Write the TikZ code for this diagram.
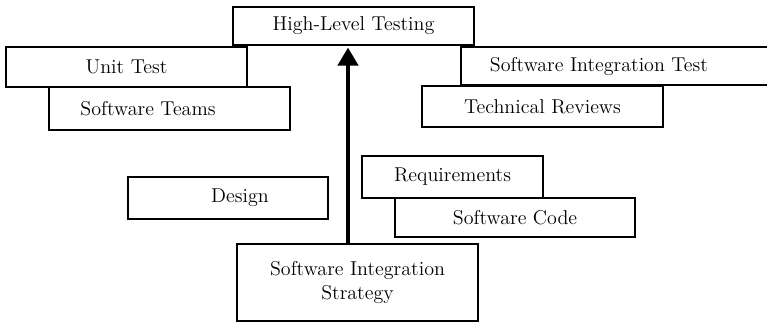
\documentclass[tikz,border=0pt]{standalone}
\usepackage{tikz}
\usetikzlibrary{arrows.meta}
\tikzset{>={Triangle[length=0.36cm,width=0.4cm]}}
\tikzset{okvir/.style={draw, line width=0.9pt, inner sep=0pt, align=center,
	font=\fontsize{11.4}{14.2}\selectfont}}

\begin{document}
\begin{tikzpicture}[x=0.02cm, y=-0.02cm]

	\useasboundingbox (0,0) rectangle (767,322);
	\clip (0,0) rectangle (767,322);

	% top row
	\node[okvir, minimum width=4.82cm, minimum height=0.76cm] (high) at (353.5,26) {High-Level Testing};
	\node[okvir, minimum width=4.82cm, minimum height=0.80cm] (unit) at (126.5,67) {Unit Test};
	\node[okvir, minimum width=4.82cm, minimum height=0.86cm] (teams) at (169.5,108.5) {Software Teams\hspace*{0.86cm}};
	\node[okvir, minimum width=6.40cm, minimum height=0.76cm] (sit) at (621,66) {Software Integration Test\hspace*{0.88cm}};
	\node[okvir, minimum width=4.82cm, minimum height=0.82cm] (reviews) at (542.5,106.5) {Technical Reviews};

	% middle
	\node[okvir, minimum width=4.00cm, minimum height=0.84cm] (design) at (228,198) {\hspace*{0.48cm}Design};
	\node[okvir, minimum width=3.62cm, minimum height=0.84cm] (req) at (452.5,177) {Requirements};
	\node[okvir, minimum width=4.80cm, minimum height=0.78cm] (code) at (515,217.5) {Software Code};

	% bottom
	\node[okvir, minimum width=4.82cm, minimum height=1.54cm] (sis) at (357.5,282.5) {Software Integration\\Strategy};

	\coordinate (os) at (348,0);
	\draw [->, line width=2.3pt, shorten >=1pt] (sis.north -| os) -- (high.south -| os);

\end{tikzpicture}
\end{document}
